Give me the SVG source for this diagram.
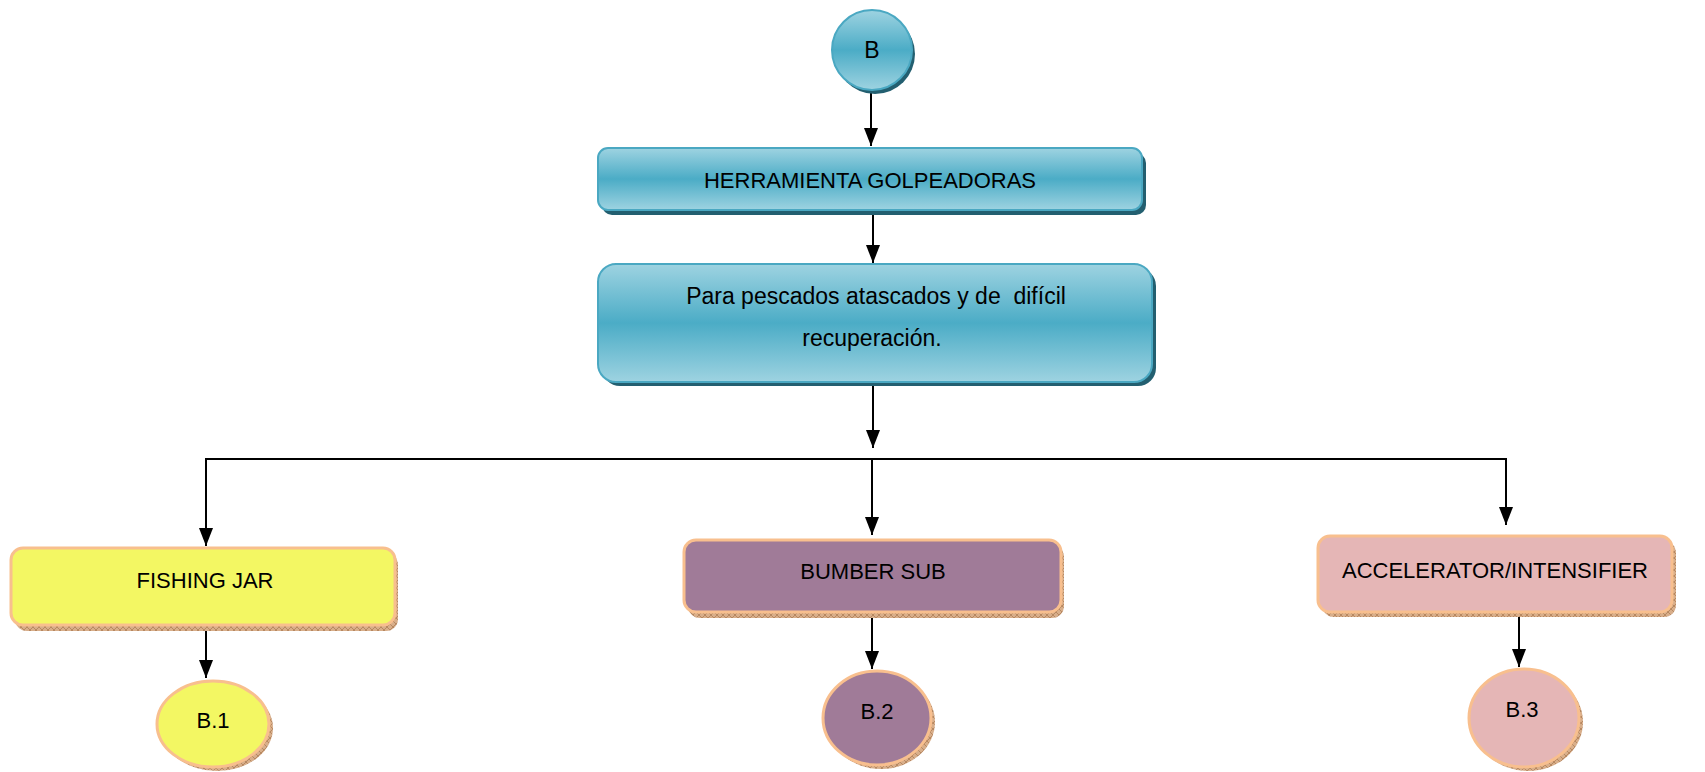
<svg xmlns="http://www.w3.org/2000/svg" width="1705" height="772" viewBox="0 0 1705 772">
<defs>
<linearGradient id="teal" x1="0" y1="0" x2="0" y2="1">
<stop offset="0" stop-color="#9ED3E1"/>
<stop offset="0.5" stop-color="#4BACC6"/>
<stop offset="1" stop-color="#9ED3E1"/>
</linearGradient>
<pattern id="hatch" width="6" height="6" patternUnits="userSpaceOnUse">
<rect width="6" height="6" fill="#D8AE8A"/>
<path d="M0 0L6 6M6 0L0 6" stroke="#A9774F" stroke-width="0.7"/>
</pattern>
<marker id="arr" viewBox="0 0 18 14" refX="18" refY="7" markerWidth="18" markerHeight="14" markerUnits="userSpaceOnUse" orient="auto">
<path d="M0 0L18 7L0 14Z" fill="#000"/>
</marker>
</defs>
<style>
text{font-family:"Liberation Sans",Arial,sans-serif;font-size:22px;fill:#000;text-anchor:middle;white-space:pre}
.big{font-size:23px}
.tshadow{fill:#235F70}
.teal{fill:url(#teal);stroke:#4AA8C2;stroke-width:2}
.hshadow{fill:url(#hatch)}
.orange{stroke:#F8BF8E;stroke-width:3}
.conn{fill:none;stroke:#000;stroke-width:2}
</style>
<rect width="1705" height="772" fill="#fff"/>
<g id="connectors">
<line class="conn" x1="871" y1="91" x2="871" y2="146" marker-end="url(#arr)"/>
<line class="conn" x1="873" y1="212" x2="873" y2="263" marker-end="url(#arr)"/>
<line class="conn" x1="873" y1="384" x2="873" y2="448" marker-end="url(#arr)"/>
<polyline class="conn" points="206,545 206,459 1506,459 1506,525" marker-end="url(#arr)"/>
<line class="conn" x1="206" y1="459" x2="206" y2="546" marker-end="url(#arr)"/>
<line class="conn" x1="872" y1="459" x2="872" y2="535" marker-end="url(#arr)"/>
<line class="conn" x1="206" y1="626" x2="206" y2="678" marker-end="url(#arr)"/>
<line class="conn" x1="872" y1="614" x2="872" y2="669" marker-end="url(#arr)"/>
<line class="conn" x1="1519" y1="613" x2="1519" y2="667" marker-end="url(#arr)"/>
</g>
<g id="node-B">
<circle class="tshadow" cx="875" cy="54" r="40"/>
<circle class="teal" cx="872" cy="50" r="40"/>
<text x="872" y="58" class="big">B</text>
</g>
<g id="node-herramienta">
<rect class="tshadow" x="602" y="153" width="544" height="62" rx="10"/>
<rect class="teal" x="598" y="148" width="544" height="62" rx="10"/>
<text x="870" y="188">HERRAMIENTA GOLPEADORAS</text>
</g>
<g id="node-para">
<rect class="tshadow" x="602" y="268" width="554" height="118" rx="18"/>
<rect class="teal" x="598" y="264" width="554" height="118" rx="18"/>
<text x="876" y="304" class="big">Para pescados atascados y de  difícil</text>
<text x="872" y="346" class="big">recuperación.</text>
</g>
<g id="node-fishing">
<rect class="hshadow" x="15" y="553" width="383" height="78" rx="12"/>
<rect class="orange" x="11" y="548" width="384" height="77" rx="12" fill="#F3F763"/>
<text x="205" y="588">FISHING JAR</text>
</g>
<g id="node-bumber">
<rect class="hshadow" x="688" y="545" width="376" height="73" rx="12"/>
<rect class="orange" x="684" y="540" width="377" height="72" rx="12" fill="#A07B98"/>
<text x="873" y="579">BUMBER SUB</text>
</g>
<g id="node-accel">
<rect class="hshadow" x="1322" y="541" width="354" height="76" rx="12"/>
<rect class="orange" x="1318" y="536" width="354" height="76" rx="12" fill="#E5B6B6"/>
<text x="1495" y="578">ACCELERATOR/INTENSIFIER</text>
</g>
<g id="node-b1">
<ellipse class="hshadow" cx="217" cy="728" rx="56" ry="43"/>
<ellipse class="orange" cx="213" cy="724" rx="56" ry="43" fill="#F3F763"/>
<text x="213" y="728">B.1</text>
</g>
<g id="node-b2">
<ellipse class="hshadow" cx="881" cy="722" rx="54" ry="47"/>
<ellipse class="orange" cx="877" cy="718" rx="54" ry="47" fill="#A07B98"/>
<text x="877" y="719">B.2</text>
</g>
<g id="node-b3">
<ellipse class="hshadow" cx="1528" cy="722" rx="55" ry="49"/>
<ellipse class="orange" cx="1524" cy="718" rx="55" ry="49" fill="#E5B6B6"/>
<text x="1522" y="717">B.3</text>
</g>
</svg>
